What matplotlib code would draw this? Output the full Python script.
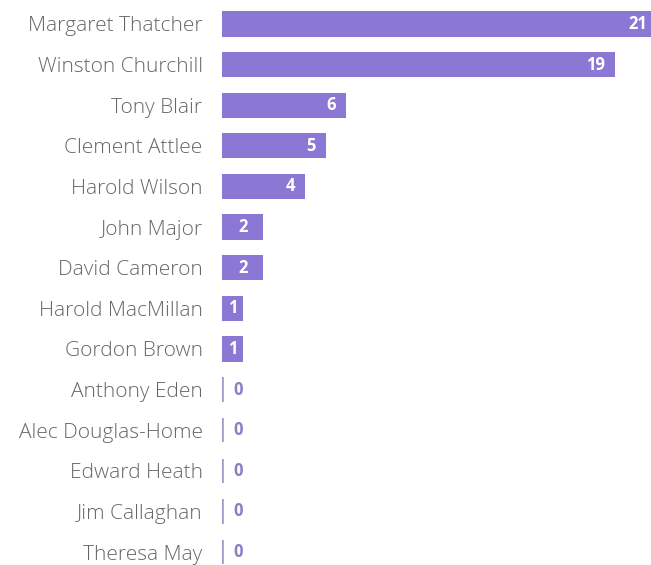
import matplotlib.pyplot as plt
import matplotlib.transforms as mtransforms

# Données
names = ["Margaret Thatcher", "Winston Churchill", "Tony Blair", "Clement Attlee",
         "Harold Wilson", "John Major", "David Cameron", "Harold MacMillan",
         "Gordon Brown", "Anthony Eden", "Alec Douglas-Home", "Edward Heath",
         "Jim Callaghan", "Theresa May"]
values = [21, 19, 6, 5, 4, 2, 2, 1, 1, 0, 0, 0, 0, 0]

bar_color = "#8b78d5"
zero_color = "#a09ac6"

fig = plt.figure(figsize=(6.51, 5.65), dpi=100)
ax = fig.add_axes([222 / 651, 0, 429 / 651, 1])

pos = list(range(len(names)))
ax.barh(pos, values, height=0.62, color=bar_color)

ax.set_xlim(0, 20.72)
ax.set_ylim(13.32, -0.59)
ax.set_yticks(pos)
ax.set_yticklabels(names, fontsize=15, color="#666666", family="Open Sans", fontweight="light")
ax.tick_params(axis="y", length=0, pad=14)
ax.tick_params(axis="x", bottom=False, labelbottom=False)
for s in ax.spines.values():
    s.set_visible(False)

# Étiquettes des valeurs
for y, v in zip(pos, values):
    if v == 0:
        ax.plot([0, 0], [y - 0.3, y + 0.3], color=zero_color, lw=2.6, solid_capstyle="butt")
        off = mtransforms.offset_copy(ax.transData, fig=fig, x=16, y=0, units="dots")
        ax.text(0, y, "0", transform=off, ha="center", va="center",
                fontsize=12, fontweight="bold", color="#8a7ec6", family="Open Sans")
    elif v >= 3:
        off = mtransforms.offset_copy(ax.transData, fig=fig, x=-10, y=0, units="dots")
        ax.text(v, y, str(v), transform=off, ha="right", va="center",
                fontsize=12, fontweight="bold", color="white", family="Open Sans")
    else:
        ax.text(v / 2, y, str(v), ha="center", va="center",
                fontsize=12, fontweight="bold", color="white", family="Open Sans")

fig.savefig("out.png", dpi=100)
